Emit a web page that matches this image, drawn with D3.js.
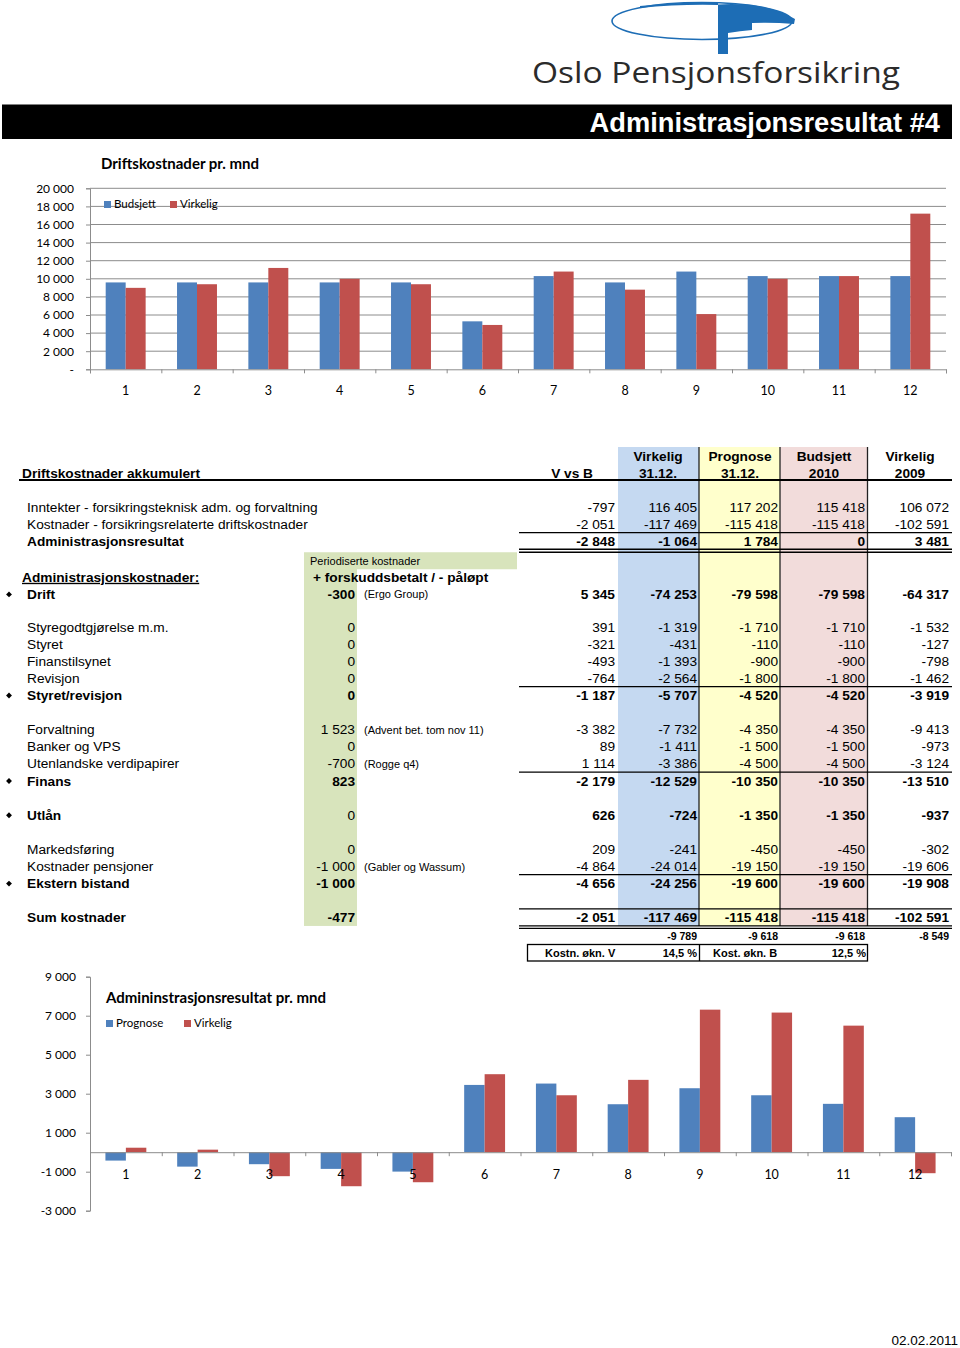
<!DOCTYPE html>
<html><head><meta charset="utf-8">
<script src="https://cdn.jsdelivr.net/npm/d3@7"></script>
<style>body{margin:0;background:#fff}svg{display:block}</style>
</head><body>
<svg id="page" width="960" height="1348"></svg>
<script>
// ---------- DATA ----------
const months = [1,2,3,4,5,6,7,8,9,10,11,12];
const budsjettMnd = [9600,9600,9600,9600,9600,5300,10300,9600,10800,10300,10300,10300];
const virkeligMnd = [9000,9400,11200,10000,9400,4900,10800,8800,6100,10000,10300,17200];
const driftTicks = [0,2000,4000,6000,8000,10000,12000,14000,16000,18000,20000];

const prognoseRes = [-430,-740,-615,-856,-995,3450,3520,2460,3280,2920,2480,1795];
const virkeligRes = [230,130,-1230,-1745,-1540,4000,2920,3710,7310,7160,6490,-1077];
const resTicks = [-3000,-1000,1000,3000,5000,7000,9000];

const colHeadLine1 = ["", "Virkelig", "Prognose", "Budsjett", "Virkelig"];
const colHeadLine2 = ["V vs B", "31.12.", "31.12.", "2010", "2009"];

const rowLabels = ["Inntekter - forsikringsteknisk adm. og forvaltning","Kostnader - forsikringsrelaterte driftskostnader","Administrasjonsresultat",null,null,"Drift",null,"Styregodtgjørelse m.m.","Styret","Finanstilsynet","Revisjon","Styret/revisjon",null,"Forvaltning","Banker og VPS","Utenlandske verdipapirer","Finans",null,"Utlån",null,"Markedsføring","Kostnader pensjoner","Ekstern bistand",null,"Sum kostnader"];
const vVsB         = [-797,-2051,-2848,null,null,5345,null,391,-321,-493,-764,-1187,null,-3382,89,1114,-2179,null,626,null,209,-4864,-4656,null,-2051];
const virkelig3112 = [116405,-117469,-1064,null,null,-74253,null,-1319,-431,-1393,-2564,-5707,null,-7732,-1411,-3386,-12529,null,-724,null,-241,-24014,-24256,null,-117469];
const prognose3112 = [117202,-115418,1784,null,null,-79598,null,-1710,-110,-900,-1800,-4520,null,-4350,-1500,-4500,-10350,null,-1350,null,-450,-19150,-19600,null,-115418];
const budsjett2010 = [115418,-115418,0,null,null,-79598,null,-1710,-110,-900,-1800,-4520,null,-4350,-1500,-4500,-10350,null,-1350,null,-450,-19150,-19600,null,-115418];
const virkelig2009 = [106072,-102591,3481,null,null,-64317,null,-1532,-127,-798,-1462,-3919,null,-9413,-973,-3124,-13510,null,-937,null,-302,-19606,-19908,null,-102591];
const periodisert  = [null,null,null,null,null,-300,null,0,0,0,0,0,null,1523,0,-700,823,null,0,null,0,-1000,-1000,null,-477];
const periodNotes  = {5:"(Ergo Group)",13:"(Advent bet. tom nov 11)",15:"(Rogge q4)",21:"(Gabler og Wassum)"};
const boldRows = [2,5,11,16,18,22,24];
const bulletRows = [5,11,16,18,22];
const monthlyAvg = [-9789,-9618,-9618,-8549];
const increaseLabels = ["Kostn. økn. V","14,5 %","Kost. økn. B","12,5 %"];

// ---------- SETUP ----------
const svg = d3.select("#page");
const loc = d3.formatLocale({decimal:",",thousands:" ",grouping:[3],currency:["",""],minus:"-"});
const fmt = loc.format(",d");
const CF = "Lato, 'Open Sans', sans-serif";
const AF = "'Liberation Sans', Arial, sans-serif";
const BLUE = "#4f81bd", RED = "#c0504d", GRID = "#8c8c8c";

// ---------- LOGO & HEADER ----------
const logo = svg.append("g");
logo.append("ellipse").attr("cx",702).attr("cy",21).attr("rx",90).attr("ry",18.5)
  .attr("fill","none").attr("stroke","#1d6db5").attr("stroke-width",1.6);
logo.append("path").attr("fill","#1d6db5")
  .attr("d","M718,54 L718,4.5 Q765,1.5 795,19 L794,24 Q772,22 752,23 L752,30 Q740,31 728,33 L728,54 Z");
logo.append("path").attr("fill","#1d6db5")
  .attr("d","M640,6 Q690,1 718,3 L718,5 Q680,4 640,8 Z");
logo.append("text").attr("x",532).attr("y",83).attr("font-family","'Open Sans', sans-serif")
  .attr("font-size",30).attr("fill","#2b2b2b").attr("textLength",368).attr("lengthAdjust","spacingAndGlyphs")
  .text("Oslo Pensjonsforsikring");

svg.append("rect").attr("x",2).attr("y",104.5).attr("width",950).attr("height",34.5).attr("fill","#000");
svg.append("text").attr("x",940).attr("y",132).attr("text-anchor","end").attr("font-family",AF)
  .attr("font-weight","bold").attr("font-size",27.3).attr("fill","#fff").text("Administrasjonsresultat #4");

// ---------- TOP CHART ----------
(function(){
  const g = svg.append("g");
  const x0 = d3.scaleBand().domain(months).range([90,946]).paddingInner(0.44).paddingOuter(0.22);
  const x1 = d3.scaleBand().domain(["b","v"]).range([0,x0.bandwidth()]);
  const y = d3.scaleLinear().domain([0,20000]).range([369.3,188.3]);
  const xb = d3.scaleLinear().domain([0,12]).range([90,946]);

  g.append("text").attr("x",101).attr("y",169).attr("font-family",CF).attr("font-weight","bold")
    .attr("font-size",15).attr("fill","#000").text("Driftskostnader pr. mnd");

  g.append("g").selectAll("line").data(driftTicks.filter(d=>d>0)).join("line")
    .attr("x1",90).attr("x2",946).attr("y1",d=>y(d)).attr("y2",d=>y(d))
    .attr("stroke",GRID).attr("stroke-width",1);

  const ya = g.append("g").attr("transform","translate(90,0)")
    .call(d3.axisLeft(y).tickValues(driftTicks).tickSize(4).tickPadding(12)
      .tickFormat(d=>d===0?"-":fmt(d)));
  ya.select(".domain").attr("stroke",GRID);
  ya.selectAll(".tick line").attr("stroke",GRID);
  ya.selectAll("text").attr("font-family",CF).attr("font-size",12).attr("fill","#000");

  const grp = g.append("g").selectAll("g").data(months).join("g")
    .attr("transform",d=>`translate(${x0(d)},0)`);
  grp.append("rect").attr("x",x1("b")).attr("width",x1.bandwidth())
    .attr("y",(d,i)=>y(budsjettMnd[i])).attr("height",(d,i)=>y(0)-y(budsjettMnd[i])).attr("fill",BLUE);
  grp.append("rect").attr("x",x1("v")).attr("width",x1.bandwidth())
    .attr("y",(d,i)=>y(virkeligMnd[i])).attr("height",(d,i)=>y(0)-y(virkeligMnd[i])).attr("fill",RED);

  const xa = g.append("g").attr("transform",`translate(0,${y(0)})`)
    .call(d3.axisBottom(xb).tickValues(d3.range(13)).tickSize(4).tickFormat(""));
  xa.select(".domain").attr("stroke",GRID);
  xa.selectAll(".tick line").attr("stroke",GRID);

  g.append("g").selectAll("text").data(months).join("text")
    .attr("x",d=>x0(d)+x0.bandwidth()/2).attr("y",395).attr("text-anchor","middle")
    .attr("font-family",CF).attr("font-size",12.5).attr("fill","#000").text(d=>d);

  const lg = g.append("g").attr("font-family",CF).attr("font-size",11.5);
  [["Budsjett",BLUE,104],["Virkelig",RED,170]].forEach(([t,c,xx])=>{
    lg.append("rect").attr("x",xx).attr("y",201).attr("width",7).attr("height",7).attr("fill",c);
    lg.append("text").attr("x",xx+10).attr("y",208).attr("fill","#000").text(t);
  });
})();

// ---------- TABLE ----------
(function(){
  const g = svg.append("g").attr("font-family",AF).attr("font-size",13.7).attr("fill","#000");
  const slotY = s => 507 + s*17.1;
  const base = s => slotY(s) + 4.9;
  const colRight = [615, 697, 778, 865, 949];
  const colCenter = [573, 658, 740, 824, 910];
  const cols = [vVsB, virkelig3112, prognose3112, budsjett2010, virkelig2009];

  // shading
  const top = 447, bottom = slotY(24.5);
  g.append("rect").attr("x",618).attr("y",top).attr("width",81).attr("height",bottom-top).attr("fill","#c5d9f1");
  g.append("rect").attr("x",699).attr("y",top).attr("width",81).attr("height",bottom-top).attr("fill","#ffffcc");
  g.append("rect").attr("x",780).attr("y",top).attr("width",88).attr("height",bottom-top).attr("fill","#f2dcdb");
  // green periodisation column
  g.append("rect").attr("x",304).attr("y",slotY(2.5)+2.5).attr("width",213).attr("height",17).attr("fill","#d8e4bc");
  g.append("rect").attr("x",304).attr("y",slotY(2.5)+19).attr("width",53).attr("height",bottom-slotY(2.5)-19).attr("fill","#d8e4bc");

  [699,780,867.5].forEach(xx=>g.append("line").attr("x1",xx).attr("x2",xx).attr("y1",top).attr("y2",bottom)
    .attr("stroke","#222").attr("stroke-width",1.3));

  // header
  g.append("text").attr("x",22).attr("y",base(-2)).attr("font-weight","bold").text("Driftskostnader akkumulert");
  colHeadLine1.forEach((t,i)=>{ if(t) g.append("text").attr("x",colCenter[i]).attr("y",base(-3)+0.5)
    .attr("text-anchor","middle").attr("font-weight","bold").text(t); });
  colHeadLine2.forEach((t,i)=>{ g.append("text").attr("x",i===0?593:colCenter[i]).attr("y",base(-2))
    .attr("text-anchor",i===0?"end":"middle").attr("font-weight","bold").text(t); });
  g.append("line").attr("x1",19).attr("x2",952).attr("y1",480).attr("y2",480).attr("stroke","#000").attr("stroke-width",2);

  // horizontal rules
  const rule = (yy,w)=>g.append("line").attr("x1",519).attr("x2",952).attr("y1",yy).attr("y2",yy)
    .attr("stroke","#000").attr("stroke-width",w||1.3);
  rule(slotY(1.5)); rule(slotY(2.5)-0.5); rule(slotY(2.5)+2.5);
  rule(slotY(10.5)); rule(slotY(15.5)); rule(slotY(21.5));
  rule(slotY(23.5)); rule(slotY(24.5)); rule(slotY(24.5)+2.5);

  // periodisation header
  g.append("text").attr("x",310).attr("y",slotY(3)+6.5).attr("font-size",11).text("Periodiserte kostnader");
  g.append("text").attr("x",313).attr("y",base(4)+1.5).attr("font-weight","bold").text("+ forskuddsbetalt / - påløpt");
  g.append("text").attr("x",22).attr("y",base(4)+1.5).attr("font-weight","bold")
    .attr("text-decoration","underline").text("Administrasjonskostnader:");

  rowLabels.forEach((lab,s)=>{
    if(lab===null) return;
    const bold = boldRows.includes(s);
    const yy = base(s) + (s===5?1.5:0);
    g.append("text").attr("x",27).attr("y",yy).attr("font-weight",bold?"bold":null).text(lab);
    if(bulletRows.includes(s)){
      g.append("path").attr("d",d3.symbol(d3.symbolDiamond2,22)()).attr("transform",`translate(9,${yy-4.5})`).attr("fill","#000");
    }
    cols.forEach((col,c)=>{
      if(col[s]===null) return;
      g.append("text").attr("x",colRight[c]).attr("y",yy).attr("text-anchor","end")
        .attr("font-weight",bold?"bold":null).text(fmt(col[s]));
    });
    if(periodisert[s]!==null){
      g.append("text").attr("x",355).attr("y",yy).attr("text-anchor","end")
        .attr("font-weight",(bold && s!==18)?"bold":null).text(fmt(periodisert[s]));
    }
    if(periodNotes[s]){
      g.append("text").attr("x",364).attr("y",yy-0.5).attr("font-size",11).text(periodNotes[s]);
    }
  });

  // monthly average row
  monthlyAvg.forEach((v,i)=>{
    g.append("text").attr("x",colRight[i+1]).attr("y",slotY(25)+5.5).attr("text-anchor","end")
      .attr("font-size",10.5).attr("font-weight","bold").text(fmt(v));
  });
  // increase box
  g.append("rect").attr("x",527.5).attr("y",944.5).attr("width",340).attr("height",16.5)
    .attr("fill","none").attr("stroke","#000").attr("stroke-width",1.3);
  g.append("line").attr("x1",699.5).attr("x2",699.5).attr("y1",944.5).attr("y2",961).attr("stroke","#000").attr("stroke-width",1.3);
  const bx = [[545,"start"],[697,"end"],[713,"start"],[866,"end"]];
  increaseLabels.forEach((t,i)=>g.append("text").attr("x",bx[i][0]).attr("y",957).attr("text-anchor",bx[i][1])
    .attr("font-size",11).attr("font-weight","bold").text(t));
})();

// ---------- BOTTOM CHART ----------
(function(){
  const g = svg.append("g");
  const x0 = d3.scaleBand().domain(months).range([90,951]).paddingInner(0.43).paddingOuter(0.215);
  const x1 = d3.scaleBand().domain(["p","v"]).range([0,x0.bandwidth()]);
  const y = d3.scaleLinear().domain([-3000,9000]).range([1210.7,976.7]);
  const xb = d3.scaleLinear().domain([0,12]).range([90,951]);

  const ya = g.append("g").attr("transform","translate(90,0)")
    .call(d3.axisLeft(y).tickValues(resTicks).tickSize(4).tickPadding(10).tickFormat(fmt));
  ya.select(".domain").attr("stroke",GRID);
  ya.selectAll(".tick line").attr("stroke",GRID);
  ya.selectAll("text").attr("font-family",CF).attr("font-size",12).attr("fill","#000");

  const grp = g.append("g").selectAll("g").data(months).join("g")
    .attr("transform",d=>`translate(${x0(d)},0)`);
  grp.append("rect").attr("x",x1("p")).attr("width",x1.bandwidth())
    .attr("y",(d,i)=>y(Math.max(0,prognoseRes[i]))).attr("height",(d,i)=>Math.abs(y(0)-y(prognoseRes[i]))).attr("fill",BLUE);
  grp.append("rect").attr("x",x1("v")).attr("width",x1.bandwidth())
    .attr("y",(d,i)=>y(Math.max(0,virkeligRes[i]))).attr("height",(d,i)=>Math.abs(y(0)-y(virkeligRes[i]))).attr("fill",RED);

  const xa = g.append("g").attr("transform",`translate(0,${y(0)})`)
    .call(d3.axisBottom(xb).tickValues(d3.range(13)).tickSize(4).tickFormat(""));
  xa.select(".domain").attr("stroke",GRID);
  xa.selectAll(".tick line").attr("stroke",GRID);

  g.append("g").selectAll("text").data(months).join("text")
    .attr("x",d=>x0(d)+x0.bandwidth()/2).attr("y",1178.5).attr("text-anchor","middle")
    .attr("font-family",CF).attr("font-size",12.5).attr("fill","#000").text(d=>d);

  g.append("text").attr("x",106).attr("y",1003).attr("font-family",CF).attr("font-weight","bold")
    .attr("font-size",15).attr("fill","#000").text("Admininstrasjonsresultat pr. mnd");
  const lg = g.append("g").attr("font-family",CF).attr("font-size",11.5);
  [["Prognose",BLUE,106],["Virkelig",RED,184]].forEach(([t,c,xx])=>{
    lg.append("rect").attr("x",xx).attr("y",1020).attr("width",7).attr("height",7).attr("fill",c);
    lg.append("text").attr("x",xx+10).attr("y",1027).attr("fill","#000").text(t);
  });
})();

// ---------- FOOTER ----------
svg.append("text").attr("x",958).attr("y",1345).attr("text-anchor","end").attr("font-family",AF)
  .attr("font-size",13.5).attr("fill","#000").text("02.02.2011");
</script>
</body></html>
